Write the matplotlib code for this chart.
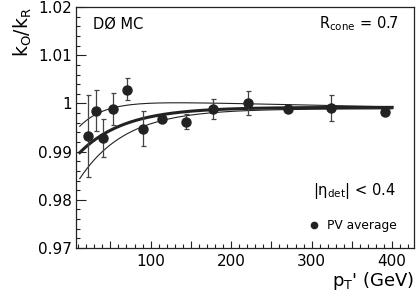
import numpy as np
import matplotlib
matplotlib.use("Agg")
import matplotlib.pyplot as plt
from matplotlib.ticker import MultipleLocator

# PV-average points
pt = [22, 32.3, 41.4, 53, 70.4, 91, 114, 144, 178, 221.5, 270.4, 324, 391.3]
k_ratio = [0.9932, 0.9985, 0.9929, 0.9988, 1.0029, 0.9948, 0.9967, 0.9961,
           0.9988, 1.0000, 0.9988, 0.9990, 0.9983]
err_hi = [0.0085, 0.0044, 0.0038, 0.0033, 0.0023, 0.0037, 0.0006, 0.0017,
          0.0022, 0.0026, 0.0003, 0.0027, 0.0005]
err_lo = [0.0084, 0.0042, 0.0040, 0.0033, 0.0022, 0.0036, 0.0006, 0.0015,
          0.0020, 0.0024, 0.0003, 0.0026, 0.0005]

# fit curves: a - b*exp(-pT/c) + d*pT
fit_central = (0.9992, 0.01165, 56.0, 0.0)
fit_upper = (1.00074, 0.00795, 31.5, -3.6e-6)
fit_lower = (0.9989, 0.01788, 57.3, 0.0)
fit_range = (12, 400)

plt.rcParams["font.family"] = "DejaVu Sans"

fig = plt.figure(figsize=(4.16, 2.97), dpi=100)
ax = fig.add_axes([0.183, 0.165, 0.812, 0.811])


def model(x, p):
    a, b, c, d = p
    return a - b * np.exp(-x / c) + d * x


xs = np.linspace(*fit_range, 300)
ax.plot(xs, model(xs, fit_upper), color="#222", lw=0.8)
ax.plot(xs, model(xs, fit_lower), color="#222", lw=0.8)
ax.plot(xs, model(xs, fit_central), color="#222", lw=2.2)

ax.errorbar(pt, k_ratio, yerr=[err_lo, err_hi], fmt="o", color="#222",
            ecolor="#444", elinewidth=0.9, capsize=1.8, capthick=0.9,
            markersize=6.5, zorder=5)

ax.set_xlim(7.5, 427)
ax.set_ylim(0.97, 1.02)
ax.set_xticks([50, 100, 150, 200, 250, 300, 350, 400])
ax.set_xticklabels(["", "100", "", "200", "", "300", "", "400"])
ax.xaxis.set_minor_locator(MultipleLocator(10))
ax.set_yticks([0.97, 0.98, 0.99, 1.0, 1.01, 1.02])
ax.set_yticklabels(["0.97", "0.98", "0.99", "1", "1.01", "1.02"])
ax.yaxis.set_minor_locator(MultipleLocator(0.002))
ax.tick_params(which="both", direction="in", top=False, right=False,
               labelsize=11, color="#222", width=0.8)
ax.tick_params(axis="y", which="major", length=7, pad=3)
ax.tick_params(axis="x", which="major", length=5, pad=4)
ax.tick_params(which="minor", length=3)
for s in ax.spines.values():
    s.set_linewidth(0.9)
    s.set_color("#222")

ax.set_xlabel("p$_\\mathregular{T}$' (GeV)", fontsize=13, loc="right", labelpad=1)
ax.set_ylabel("k$_\\mathregular{O}$/k$_\\mathregular{R}$", fontsize=13.5, loc="top",
              labelpad=3)

ax.text(0.05, 0.93, "DØ MC", transform=ax.transAxes, fontsize=10.5,
        va="center", ha="left")
ax.text(0.955, 0.93, "R$_\\mathregular{cone}$ = 0.7", transform=ax.transAxes,
        fontsize=10.5, va="center", ha="right")
ax.text(0.945, 0.235, "|η$_\\mathregular{det}$| < 0.4", transform=ax.transAxes,
        fontsize=10.5, va="center", ha="right")
ax.plot([0.705], [0.095], "o", color="#222", markersize=4.5,
        transform=ax.transAxes)
ax.text(0.742, 0.095, "PV average", transform=ax.transAxes, fontsize=8.8,
        va="center", ha="left")

fig.savefig("out.png", dpi=100)
